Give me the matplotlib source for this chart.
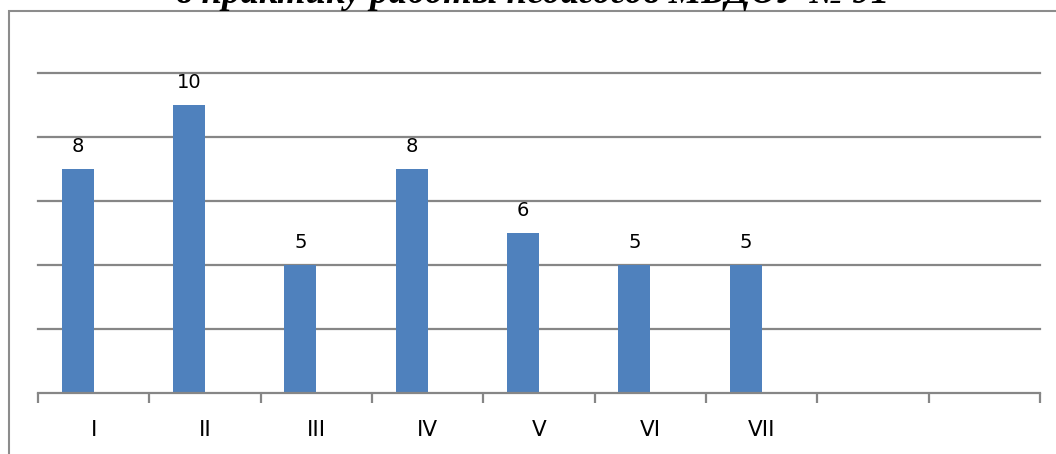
import matplotlib
matplotlib.use("Agg")
import matplotlib.pyplot as plt
from matplotlib.patches import Rectangle

# categories on the x axis (the last two are empty slots)
categories = ["I", "II", "III", "IV", "V", "VI", "VII", "", ""]
# bar labels as shown on the chart
labels = [8, 10, 5, 8, 6, 5, 5]
# the value axis starts at 1, so bars are drawn from 1
baseline = 1
title = "в практику работы педагогов МБДОУ № 91"

bar_color = "#4f81bd"
grid_color = "#868686"

fig = plt.figure(figsize=(10.56, 4.54), dpi=100)
W, H = 1056, 454

# outer chart border (cut at right and bottom)
fig.patches.append(Rectangle((9 / W, -0.1), 1.2, (454 - 11.5) / H + 0.1,
                             transform=fig.transFigure, fill=False,
                             edgecolor="#8c8c8c", linewidth=1.5))

ax = fig.add_axes([38 / W, 1 - 393 / H, (1040 - 38) / W, (393 - 73) / H])
ax.set_xlim(0, len(categories))
ax.set_ylim(1, 11)

# horizontal gridlines
for y in range(3, 12, 2):
    ax.axhline(y, color=grid_color, linewidth=1.6, zorder=1, clip_on=False)

w = 32 / 111.33
for i, lab in enumerate(labels):
    x = i + 0.5 - w / 2
    ax.bar(x, lab - baseline, bottom=baseline, width=w, color=bar_color,
           zorder=2)
    ax.text(x, lab + 0.4, str(lab), ha="center", va="bottom",
            fontsize=14, family="DejaVu Sans", color="black", zorder=3)

for s in ["top", "right", "left"]:
    ax.spines[s].set_visible(False)
ax.spines["bottom"].set_color(grid_color)
ax.spines["bottom"].set_linewidth(1.6)
ax.set_yticks([])
ax.set_xticks(range(len(categories) + 1))
ax.set_xticklabels([])
ax.tick_params(axis="x", direction="out", length=7, width=1.6,
               color=grid_color)
for i, c in enumerate(categories):
    ax.text(i + 0.5, -0.17, c, ha="center", va="center", fontsize=15.5,
            family="DejaVu Sans", transform=ax.transData, clip_on=False)

# title, cut at the top of the image; fit its width to the reference
t = fig.text(533 / W, 1 - 3 / H, title, ha="center", va="baseline",
             fontsize=20, family="Liberation Serif", weight="bold",
             style="italic")
fig.canvas.draw()
ext = t.get_window_extent(fig.canvas.get_renderer())
t.set_fontsize(20 * 713 / ext.width)

fig.savefig("out.png", dpi=100)
